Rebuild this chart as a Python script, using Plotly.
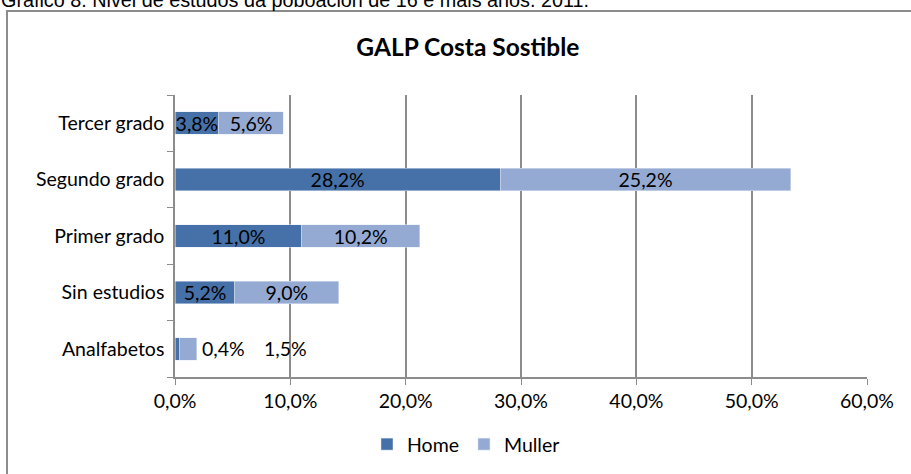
import plotly.graph_objects as go

categories = ['Analfabetos', 'Sin estudios', 'Primer grado', 'Segundo grado', 'Tercer grado']
home = [0.4, 5.2, 11.0, 28.2, 3.8]
muller = [1.5, 9.0, 10.2, 25.2, 5.6]
x_ticks = [0, 10, 20, 30, 40, 50, 60]

FONT = 'Lato'
FS = 19.5


def pct(v):
    return f'{v:.1f}%'.replace('.', ',')


def inner_labels(vals):
    # Analfabetos labels do not fit inside, they are drawn as annotations
    return ['' if c == 'Analfabetos' else pct(v) for c, v in zip(categories, vals)]


fig = go.Figure()
fig.add_trace(go.Bar(
    y=categories, x=home, name='Home', orientation='h',
    marker=dict(color='#4571A8'),
    text=inner_labels(home), textposition='inside', insidetextanchor='middle',
    textfont=dict(color='black', size=FS, family=FONT),
))
fig.add_trace(go.Bar(
    y=categories, x=muller, name='Muller', orientation='h',
    marker=dict(color='#95AAD3'),
    text=inner_labels(muller), textposition='inside', insidetextanchor='middle',
    textfont=dict(color='black', size=FS, family=FONT),
))

i = categories.index('Analfabetos')
total = home[i] + muller[i]
fig.add_annotation(x=total, y='Analfabetos', text=pct(home[i]), showarrow=False,
                   xanchor='left', xshift=3, font=dict(size=FS, family=FONT, color='black'))
fig.add_annotation(x=total, y='Analfabetos', text=pct(muller[i]), showarrow=False,
                   xanchor='left', xshift=65, font=dict(size=FS, family=FONT, color='black'))

# caption cut off at the top of the image
fig.add_annotation(xref='paper', yref='paper', x=-0.255, y=1.336, xanchor='left',
                   yanchor='middle',
                   text='Gráfico 8. Nivel de estudos da poboación de 16 e máis anos. 2011.',
                   showarrow=False, font=dict(size=19.8, family='Liberation Sans', color='black'))

# chart frame
fig.add_shape(type='rect', xref='paper', yref='paper', x0=-0.2428, y0=-0.6, x1=1.2, y1=1.2979,
              line=dict(color='#8c8c8c', width=2), layer='below')

fig.update_layout(
    title=dict(text='<b>GALP Costa Sostible</b>', x=0.5136, xanchor='center', y=0.9, yanchor='middle',
               font=dict(size=24.5, family=FONT, color='black')),
    barmode='stack', bargap=0.6,
    width=911, height=474,
    margin=dict(l=175, r=44, t=95, b=97, autoexpand=False),
    paper_bgcolor='white', plot_bgcolor='white',
    font=dict(family=FONT, size=FS, color='black'),
    uniformtext=dict(minsize=FS, mode='show'),
    legend=dict(orientation='h', x=0.4205, xanchor='center', y=-0.17, yanchor='top',
                font=dict(size=FS, family=FONT), traceorder='normal'),
    showlegend=True,
)
fig.update_xaxes(
    range=[0, 60], tickvals=x_ticks, ticktext=[pct(v) for v in x_ticks],
    showgrid=True, gridcolor='#8c8c8c', gridwidth=1.5,
    showline=True, linecolor='#8c8c8c', linewidth=1.5,
    ticks='outside', ticklen=6, tickcolor='#8c8c8c', zeroline=False, automargin=False,
)
fig.update_yaxes(
    categoryorder='array', categoryarray=categories,
    showline=True, linecolor='#8c8c8c', linewidth=1.5,
    ticks='outside', ticklen=6, tickcolor='#8c8c8c', tickson='boundaries',
    showgrid=False, ticksuffix=' ', automargin=False,
)

# drop the default 8px page margin so the figure fills the window
fig.write_html('out.html', config={'displayModeBar': False},
               post_script="document.body.style.margin='0';")
